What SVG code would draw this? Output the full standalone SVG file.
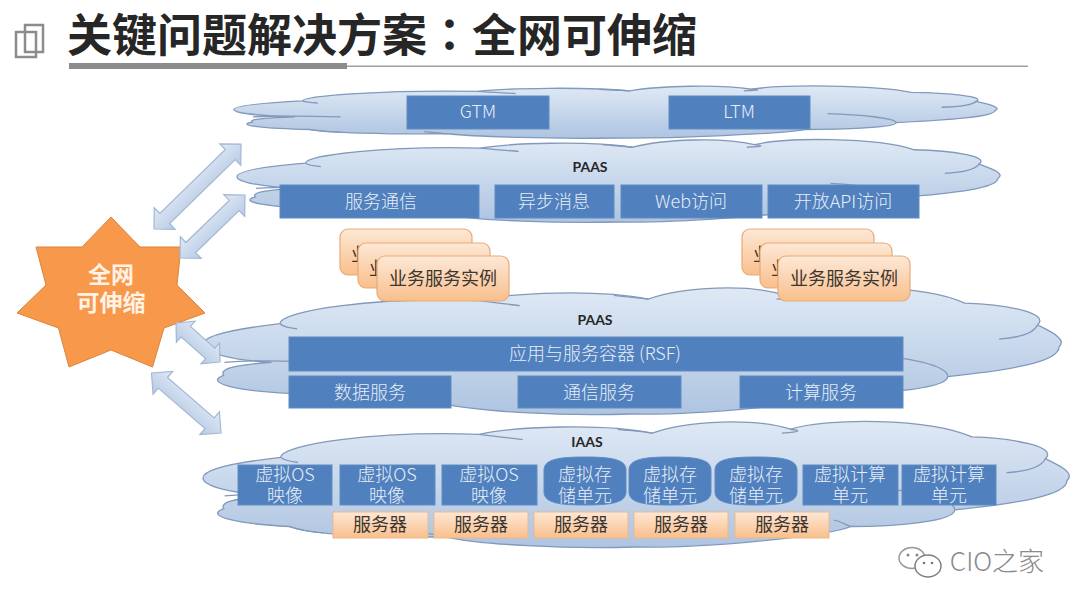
<svg xmlns="http://www.w3.org/2000/svg" width="1080" height="608" viewBox="0 0 1080 608">
<style>
text{font-family:"Noto Sans CJK SC","Noto Sans",sans-serif;text-anchor:middle}
.c{fill:url(#cg);stroke:#8199bb;stroke-width:1.3;vector-effect:non-scaling-stroke}
.t{fill:none;stroke:#8199bb;stroke-width:1.3;vector-effect:non-scaling-stroke}
.b{fill:#5080bd;stroke:#5f8cc2;stroke-width:1}
.w{font-size:18px;fill:#e6eef8;font-weight:300}
.k{font-size:18px;fill:#3d3630}
.o{fill:url(#og);stroke:#e8ab76;stroke-width:1.2}
.s{fill:url(#og);stroke:#edb88a;stroke-width:1}
.h{font-family:"Lato","Open Sans",sans-serif;font-size:14px;font-weight:700;fill:#262626}
.a{fill:url(#ag);stroke:#a3b7d4;stroke-width:1.2}
.v{text-anchor:start}
</style>
<defs>
<linearGradient id="cg" x1="0" y1="0" x2="0" y2="1"><stop offset="0" stop-color="#dfe9f5"/><stop offset="1" stop-color="#aec4e1"/></linearGradient>
<linearGradient id="og" x1="0" y1="0" x2="0" y2="1"><stop offset="0" stop-color="#fde8d6"/><stop offset="1" stop-color="#f9bf8c"/></linearGradient>
<linearGradient id="ag" x1="0" y1="0" x2="0" y2="1"><stop offset="0" stop-color="#e0e9f5"/><stop offset="1" stop-color="#b7cae4"/></linearGradient>
<g id="cloud">
<path class="c" d="M0,46 C0,38 5,33 9,30 C9,20 20,9 32,12 C36,6 46,3 52,11 C56,1 64,-1 68,8 C72,-1 84,-1 89,14 C94,15 99,22 97.5,31 C99,36 101,42 100,48 C100,60 94,66 87,71 C87,80 80,84 75,84 C72,92 58,101 50,100 C42,102 32,98 28,92 C20,93 12,90 10,84 C4,82 0,76 2.4,70 C2,66 3,62 8,60 C3,58 0,52 0,46 Z"/>
<path class="t" d="M9,30 C9.300,32 9.800,33 11,34 M2.500,60 C6,58 11,59 14,60 M32,12 C34,14 36,15 37,16 M52,11 C50,9 49,9 48,8 M68,8 C69,9 69.500,10 67,11 M97.500,31 C97,38 95,41 93,42 M87,71 C87,62 82,56 78,54 M75,84 C74,82 74,80 73,79 M28,92 C27,91 26,89 25,88 M10,84 C11,86 12,88 14,89"/>
</g>
</defs>
<rect width="1080" height="608" fill="#fff"/>

<g id="title">
<rect x="16" y="32" width="20" height="25" fill="none" stroke="#8c8c8c" stroke-width="2.500"/>
<rect x="25" y="25" width="18" height="27" fill="none" stroke="#8c8c8c" stroke-width="2.500"/>
<text x="382" y="52" style="font-size:45px;font-weight:700;fill:#262626">关键问题解决方案<tspan style="font-family:'Noto Sans CJK TC',sans-serif">：</tspan>全网可伸缩</text>
<rect x="69" y="63" width="278" height="6" fill="#8c8c8c"/>
<rect x="347" y="65.500" width="681" height="1.500" fill="#a0a0a0"/>
</g>

<g id="cloud-1"><use href="#cloud" transform="translate(234,85) scale(7.61,.53)"/></g>
<g id="cloud-2"><use href="#cloud" transform="translate(237,138) scale(7.61,.84)"/></g>
<g id="cloud-3"><use href="#cloud" transform="translate(203,285) scale(8.56,1.29)"/></g>
<g id="cloud-4"><use href="#cloud" transform="translate(203,419) scale(8.64,1.28)"/></g>

<g id="gtm"><rect class="b" x="407" y="96" width="142" height="33"/><text class="w" x="478" y="118">GTM</text></g>
<g id="ltm"><rect class="b" x="669" y="96" width="141" height="33"/><text class="w" x="739" y="118">LTM</text></g>

<g id="paas-top"><text class="h" x="590" y="172">PAAS</text></g>
<g id="svc-comm"><rect class="b" x="280" y="185" width="199" height="33"/><text class="w" x="381" y="208">服务通信</text></g>
<g id="svc-async"><rect class="b" x="495" y="185" width="119" height="33"/><text class="w" x="554" y="208">异步消息</text></g>
<g id="svc-web"><rect class="b" x="621" y="185" width="141" height="33"/><text class="w" x="691" y="208">Web访问</text></g>
<g id="svc-api"><rect class="b" x="768" y="185" width="151" height="33"/><text class="w" x="843" y="208">开放API访问</text></g>

<g id="instances-left">
<rect class="o" x="340" y="229" width="132" height="46" rx="8"/><text class="k v" x="351" y="261">业</text>
<rect class="o" x="358" y="243" width="132" height="45" rx="8"/><text class="k v" x="369" y="275">业</text>
<rect class="o" x="377" y="256" width="132" height="45" rx="8"/><text class="k" x="443" y="285">业务服务实例</text>
</g>
<g id="instances-right">
<rect class="o" x="742" y="229" width="132" height="46" rx="8"/><text class="k v" x="753" y="261">业</text>
<rect class="o" x="760" y="243" width="132" height="45" rx="8"/><text class="k v" x="771" y="275">业</text>
<rect class="o" x="778" y="256" width="132" height="45" rx="8"/><text class="k" x="844" y="285">业务服务实例</text>
</g>

<g id="paas-mid"><text class="h" x="595" y="325">PAAS</text></g>
<g id="rsf"><rect class="b" x="289" y="337" width="614" height="34"/><text class="w" x="595" y="360">应用与服务容器 (RSF)</text></g>
<g id="data-svc"><rect class="b" x="289" y="376" width="162" height="32"/><text class="w" x="370" y="399">数据服务</text></g>
<g id="msg-svc"><rect class="b" x="518" y="376" width="163" height="32"/><text class="w" x="599" y="399">通信服务</text></g>
<g id="calc-svc"><rect class="b" x="740" y="376" width="163" height="32"/><text class="w" x="821" y="399">计算服务</text></g>

<g id="iaas"><text class="h" x="587" y="447">IAAS</text></g>
<g id="vm-1"><rect class="b" x="238" y="465" width="94" height="40"/><text class="w" x="285" y="481">虚拟OS</text><text class="w" x="285" y="502">映像</text></g>
<g id="vm-2"><rect class="b" x="340" y="465" width="95" height="40"/><text class="w" x="387" y="481">虚拟OS</text><text class="w" x="387" y="502">映像</text></g>
<g id="vm-3"><rect class="b" x="442" y="465" width="95" height="40"/><text class="w" x="489" y="481">虚拟OS</text><text class="w" x="489" y="502">映像</text></g>
<g id="store-1"><path class="b" d="M544,470 C544,459 560,457 585,457 C610,457 626,459 626,470 V492 C626,503 610,505 585,505 C560,505 544,503 544,492 Z"/><text class="w" x="585" y="481">虚拟存</text><text class="w" x="585" y="502">储单元</text></g>
<g id="store-2"><path class="b" d="M629,470 C629,459 645,457 670,457 C695,457 711,459 711,470 V492 C711,503 695,505 670,505 C645,505 629,503 629,492 Z"/><text class="w" x="670" y="481">虚拟存</text><text class="w" x="670" y="502">储单元</text></g>
<g id="store-3"><path class="b" d="M715,470 C715,459 731,457 756,457 C781,457 797,459 797,470 V492 C797,503 781,505 756,505 C731,505 715,503 715,492 Z"/><text class="w" x="756" y="481">虚拟存</text><text class="w" x="756" y="502">储单元</text></g>
<g id="cpu-1"><rect class="b" x="803" y="465" width="95" height="40"/><text class="w" x="850" y="481">虚拟计算</text><text class="w" x="850" y="502">单元</text></g>
<g id="cpu-2"><rect class="b" x="902" y="465" width="94" height="40"/><text class="w" x="949" y="481">虚拟计算</text><text class="w" x="949" y="502">单元</text></g>

<g id="server-1"><rect class="s" x="333" y="512" width="95" height="26"/><text class="k" x="380" y="531">服务器</text></g>
<g id="server-2"><rect class="s" x="434" y="512" width="94" height="26"/><text class="k" x="481" y="531">服务器</text></g>
<g id="server-3"><rect class="s" x="534" y="512" width="94" height="26"/><text class="k" x="581" y="531">服务器</text></g>
<g id="server-4"><rect class="s" x="634" y="512" width="94" height="26"/><text class="k" x="681" y="531">服务器</text></g>
<g id="server-5"><rect class="s" x="735" y="512" width="94" height="26"/><text class="k" x="782" y="531">服务器</text></g>

<g id="star">
<polygon points="111,217 140,247 181,247 177,285 205,313 164,328 152.500,367 111,350 69,367 58.500,328 17,313 46,285 36,247 82,247" fill="#f7984a" stroke="#d9843f" stroke-width="1"/>
<text x="111" y="283" style="font-size:23px;font-weight:700;fill:#fff2e6">全网</text>
<text x="111" y="311" style="font-size:23px;font-weight:700;fill:#fff2e6">可伸缩</text>
</g>

<g id="connectors">
<polygon class="a" transform="translate(154,229) rotate(-44.3)" points="0,0 15,-15 15,-7 106.600,-7 106.600,-15 121.600,0 106.600,15 106.600,7 15,7 15,15"/>
<polygon class="a" transform="translate(180,258) rotate(-44.1)" points="0,0 15,-15 15,-7 75.500,-7 75.500,-15 90.500,0 75.500,15 75.500,7 15,7 15,15"/>
<polygon class="a" transform="translate(176,323) rotate(41.6)" points="0,0 13,-14 13,-7 45.800,-7 45.800,-14 58.800,0 45.800,14 45.800,7 13,7 13,14"/>
<polygon class="a" transform="translate(151.500,373) rotate(40.8)" points="0,0 15,-15 15,-7 76.800,-7 76.800,-15 91.800,0 76.800,15 76.800,7 15,7 15,15"/>
</g>

<g id="watermark">
<ellipse cx="912" cy="558" rx="13" ry="10.500" fill="#fff" stroke="#9a9a9a" stroke-width="1.500"/>
<ellipse cx="928" cy="566" rx="13" ry="11" fill="#fff" stroke="#808080" stroke-width="1.500"/>
<circle cx="908" cy="555" r="1.500" fill="#888"/><circle cx="917" cy="555" r="1.500" fill="#888"/>
<circle cx="924" cy="563" r="1.300" fill="#777"/><circle cx="932" cy="563" r="1.300" fill="#777"/>
<text x="997" y="571" style="font-size:26px;font-weight:300;fill:#8a8a8a">CIO之家</text>
</g>
</svg>
